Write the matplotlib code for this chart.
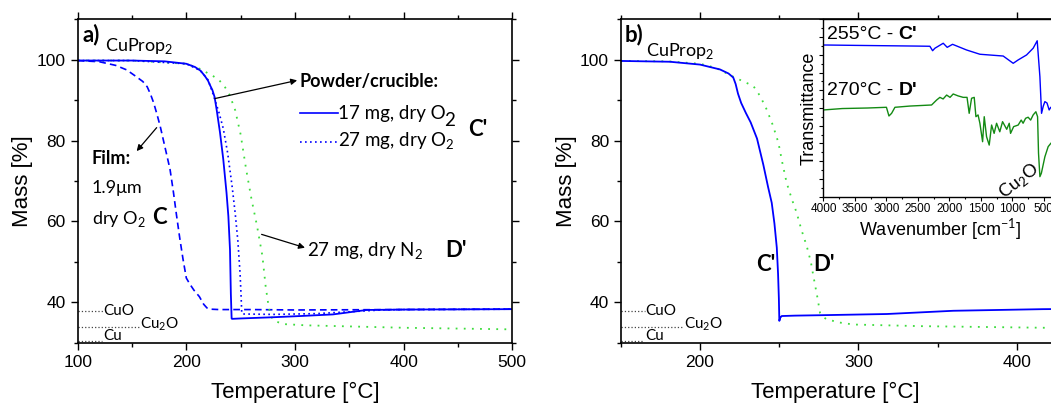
import matplotlib
matplotlib.use("Agg")
import matplotlib.pyplot as plt
from matplotlib.ticker import MultipleLocator

plt.rcParams["font.family"] = ["Liberation Sans", "DejaVu Sans"]
plt.rcParams["mathtext.fontset"] = "custom"
plt.rcParams["mathtext.rm"] = "Lato"

# ---- panel a: TGA curves, temperature [C] vs mass [%]
film_t = [100, 120, 135, 145, 154, 160, 164, 167, 170, 173, 176, 180, 185, 188,
          191, 194, 197, 200, 203, 207, 212, 216, 219, 222, 230, 260, 300, 400, 500]
film_m = [99.8, 99.5, 98.6, 97.5, 95.8, 94.6, 93.3, 91.5, 89.3, 86.5, 83.5, 78.8,
          72.9, 67.5, 61.5, 55.8, 50.6, 46.0, 44.6, 43.0, 41.4, 39.5, 38.6, 38.3,
          38.2, 38.2, 38.1, 38.2, 38.3]

o2_17_t = [100, 150, 180, 200, 208, 213, 217, 220, 222, 224, 226, 228, 231, 234,
           237, 238.7, 240.2, 241, 241.7, 242, 250, 280, 305, 335, 366, 400, 500]
o2_17_m = [99.8, 99.8, 99.6, 99.0, 98.2, 97.3, 96.0, 94.8, 93.6, 92.5, 90.8, 87.5,
           82.0, 75.4, 67.1, 61.3, 53.0, 42.0, 36.0, 35.9, 36.0, 36.3, 36.6, 37.0,
           38.1, 38.2, 38.3]

o2_27_t = [100, 150, 200, 213, 220, 224, 227, 230, 234, 238, 242, 245, 247.5,
           249.5, 250.5, 251, 252, 280, 320, 360, 380, 400, 500]
o2_27_m = [99.8, 99.8, 99.0, 97.3, 95.0, 92.0, 89.5, 87.0, 83.0, 77.0, 69.0, 62.0,
           55.0, 47.0, 41.0, 37.3, 37.1, 37.0, 37.2, 37.8, 38.1, 38.2, 38.3]

n2_27_t = [100, 150, 200, 215, 220, 225, 230, 235, 240, 245, 250, 255, 260, 265,
           270, 273, 276, 279, 283, 290, 310, 340, 400, 450, 500]
n2_27_m = [99.8, 99.8, 99.0, 97.5, 96.6, 95.9, 95.0, 93.5, 91.2, 87.5, 81.5, 73.0,
           65.5, 59.0, 51.5, 44.0, 38.5, 36.0, 35.2, 34.6, 34.3, 34.1, 33.7, 33.5, 33.3]

# ---- panel b: samples C' and D'
c_t = [150, 181, 200, 212.6, 218, 221, 222.5, 224, 226, 229, 232, 236, 240, 243,
       245.3, 247, 248.5, 249.3, 249.8, 250.1, 250.7, 251.6, 260, 275.8, 318, 360,
       416.5, 450]
c_m = [99.7, 99.5, 98.8, 97.6, 96.6, 95.6, 94.0, 91.6, 89.3, 86.8, 84.5, 80.5, 74.0,
       68.5, 64.6, 59.5, 53.5, 47.0, 41.0, 35.4, 36.2, 36.6, 36.7, 36.8, 37.1, 37.9,
       38.3, 38.4]

d_t = [150, 180, 200, 210, 221, 227, 233.7, 238, 242.1, 246, 249.5, 252, 254.7, 258,
       261, 264, 267.4, 270, 271.6, 274, 275.8, 278, 280, 288, 296.8, 339, 416.5, 450]
d_m = [99.7, 99.6, 99.0, 98.0, 95.8, 94.7, 93.5, 91.0, 87.7, 83.8, 79.5, 74.5, 69.6,
       65.5, 62.2, 58.0, 53.9, 50.0, 46.5, 41.5, 37.4, 36.3, 35.8, 35.0, 34.5, 34.1,
       33.7, 33.6]

# theoretical residue levels
ref_names = ["CuO", "Cu$_\\mathregular{2}$O", "Cu"]
ref_mass = [37.8, 34.0, 30.5]

# ---- inset: IR spectra (arbitrary transmittance)
ir_c_wn = [4000, 3940, 3500, 3000, 2500, 2310, 2267, 2230, 2098, 2035, 1950, 1727,
           1516, 1146, 987, 908, 775, 670, 606, 563, 537, 510, 484, 450, 416, 390, 300]
ir_c_tr = [85.5, 85.5, 85.3, 85.1, 84.9, 84.8, 82.3, 83.7, 86.5, 84.2, 85.9, 82.7,
           80.3, 79.3, 75.2, 77.1, 79.9, 83.7, 87.9, 67.6, 47.0, 51.0, 53.6, 52.8,
           48.9, 50.4, 50.0]

ir_d_wn = [4000, 3700, 3300, 3000, 2960, 2918, 2865, 2627, 2283, 2203, 2151, 2100,
           2044, 1990, 1940, 1860, 1781, 1720, 1686, 1648, 1606, 1579, 1545, 1516,
           1473, 1447, 1410, 1368, 1330, 1290, 1251, 1200, 1156, 1090, 1050, 1029,
           980, 908, 860, 830, 790, 750, 710, 670, 627, 600, 585, 563, 540, 484, 432,
           389, 300]
ir_d_tr = [48.9, 49.7, 50.0, 50.4, 45.5, 47.0, 50.4, 51.1, 51.7, 54.5, 56.0, 55.1,
           57.3, 56.0, 57.9, 56.8, 56.0, 56.0, 47.0, 55.5, 56.0, 45.1, 46.1, 41.4,
           31.0, 45.1, 33.8, 29.1, 40.4, 35.7, 41.4, 36.6, 42.3, 38.0, 41.4, 35.7,
           39.5, 40.4, 43.2, 41.4, 44.2, 44.8, 43.2, 46.1, 47.9, 45.1, 24.5, 11.3,
           13.2, 22.5, 28.2, 30.1, 33.0]

BLUE = "#0000ff"
LGREEN = "#3ddc3d"
DGREEN = "#138a13"
ANN = ["Lato", "DejaVu Sans"]


def style_main(ax, xlim):
    ax.set_xlim(*xlim)
    ax.set_ylim(30, 110)
    ax.xaxis.set_major_locator(MultipleLocator(100))
    ax.xaxis.set_minor_locator(MultipleLocator(50))
    ax.yaxis.set_major_locator(MultipleLocator(20))
    ax.yaxis.set_minor_locator(MultipleLocator(10))
    ax.set_yticks([40, 60, 80, 100])
    ax.tick_params(which="both", direction="out", top=True, right=True,
                   labelsize=12.5, width=1.0)
    ax.tick_params(which="major", length=5)
    ax.tick_params(which="minor", length=3)
    for s in ax.spines.values():
        s.set_linewidth(1.2)
    ax.set_ylabel("Mass [%]", fontsize=16)
    ax.set_xlabel("Temperature [°C]", fontsize=16)


def ref_lines(ax, x0, ends, label_x, label_y):
    for name, m, xe, lx, ly in zip(ref_names, ref_mass, ends, label_x, label_y):
        ax.plot([x0, xe], [m, m], ls=":", color="#444444", lw=0.9)
        ax.text(lx, ly, name, family=ANN, fontsize=11, va="center", ha="left")


def after(ax, txt, s, frac_y=0.5, dx=0, **kw):
    return ax.annotate(s, xy=(1, frac_y), xycoords=txt, xytext=(dx, 0),
                       textcoords="offset points", va="center", ha="left", **kw)


fig = plt.figure(figsize=(10.51, 4.03), dpi=100)

# ================= panel a
ax = fig.add_axes([0.0739, 0.1496, 0.4135, 0.8025])
ax.plot(film_t, film_m, color=BLUE, lw=1.2, ls=(0, (4, 2.5)))
ax.plot(n2_27_t, n2_27_m, color=LGREEN, lw=1.3, ls=(0, (1, 3.5)))
ax.plot(o2_27_t, o2_27_m, color=BLUE, lw=1.2, ls=(0, (1, 2)))
ax.plot(o2_17_t, o2_17_m, color=BLUE, lw=1.3)
style_main(ax, (100, 500))
ax.xaxis.set_label_coords(0.5, -0.122)
ax.yaxis.set_label_coords(-0.103, 0.5)
ref_lines(ax, 100, [123.6, 157, 122], [123.6, 157.4, 123.6], [37.9, 34.7, 31.6])

ax.text(0.01, 0.988, "a)", transform=ax.transAxes, family=ANN, fontsize=16,
        fontweight="bold", va="top", ha="left")
ax.text(125.5, 103.3, "CuProp$_\\mathregular{2}$", family=ANN, fontsize=13,
        va="center", ha="left")
ax.text(304.6, 94.7, "Powder/crucible:", family=ANN, fontsize=13, fontweight="bold",
        va="center", ha="left")
ax.annotate("", xy=(302, 94.9), xytext=(226.4, 90.4),
            arrowprops=dict(arrowstyle="-|>", color="black", lw=0.9,
                            mutation_scale=9, shrinkA=0, shrinkB=0))
ax.plot([304.6, 339.9], [86.8, 86.8], color=BLUE, lw=1.2)
t17 = ax.text(340, 86.8, "17 mg, dry O", family=ANN, fontsize=13.5,
              va="center", ha="left")
after(ax, t17, "2", frac_y=0.08, dx=-1.5, family=ANN, fontsize=13.5)
ax.plot([304.6, 339.9], [79.7, 79.7], color=BLUE, lw=1.2, ls=(0, (1, 2)))
ax.text(340, 79.7, "27 mg, dry O$_\\mathregular{2}$", family=ANN, fontsize=13.5,
        va="center", ha="left")
ax.text(468, 82.8, "C'", family=ANN, fontsize=16, fontweight="bold",
        va="center", ha="center")

ax.text(112.9, 75.5, "Film:", family=ANN, fontsize=13, fontweight="bold",
        va="center", ha="left")
ax.text(112.9, 68.3, "1.9μm", family=ANN, fontsize=13, va="center", ha="left")
ax.text(112.9, 60.5, "dry O$_\\mathregular{2}$", family=ANN, fontsize=13,
        va="center", ha="left")
ax.text(168.5, 61.0, "C", family=ANN, fontsize=16, fontweight="bold",
        va="center", ha="left")
ax.annotate("", xy=(154.3, 77.4), xytext=(172.7, 83.2),
            arrowprops=dict(arrowstyle="-|>", color="black", lw=0.9,
                            mutation_scale=9, shrinkA=0, shrinkB=0))

ax.annotate("", xy=(309.2, 53.5), xytext=(269.3, 56.8),
            arrowprops=dict(arrowstyle="-|>", color="black", lw=0.9,
                            mutation_scale=9, shrinkA=0, shrinkB=0))
ax.text(310.7, 52.6, "27 mg, dry N$_\\mathregular{2}$", family=ANN, fontsize=13.5,
        va="center", ha="left")
ax.text(438, 52.8, "D'", family=ANN, fontsize=16, fontweight="bold",
        va="center", ha="left")

# ================= panel b
bx = fig.add_axes([0.5907, 0.1496, 0.4520, 0.8025])
bx.plot(d_t, d_m, color=LGREEN, lw=1.3, ls=(0, (1, 3.5)))
bx.plot(c_t, c_m, color=BLUE, lw=1.3)
style_main(bx, (150, 450))
bx.xaxis.set_label_coords(0.451, -0.122)
bx.yaxis.set_label_coords(-0.093, 0.5)
ref_lines(bx, 150, [165.3, 189.5, 164.8], [165.3, 189.8, 165.3], [37.9, 34.7, 31.6])

bx.text(0.009, 0.988, "b)", transform=bx.transAxes, family=ANN, fontsize=16,
        fontweight="bold", va="top", ha="left")
bx.text(165.8, 102.2, "CuProp$_\\mathregular{2}$", family=ANN, fontsize=13,
        va="center", ha="left")
bx.text(241.6, 49.3, "C'", family=ANN, fontsize=16, fontweight="bold",
        va="center", ha="center")
bx.text(278.2, 49.3, "D'", family=ANN, fontsize=16, fontweight="bold",
        va="center", ha="center")

# ================= inset
ix = fig.add_axes([0.7835, 0.5119, 0.2217, 0.4402])
ix.plot(ir_c_wn, ir_c_tr, color=BLUE, lw=1.0)
ix.plot(ir_d_wn, ir_d_tr, color=DGREEN, lw=1.0)
ix.set_xlim(4000, 300)
ix.set_ylim(0, 100)
ix.xaxis.set_major_locator(MultipleLocator(500))
ix.xaxis.set_minor_locator(MultipleLocator(250))
ix.yaxis.set_major_locator(MultipleLocator(10))
ix.yaxis.set_minor_locator(MultipleLocator(5))
ix.tick_params(which="both", direction="out", labelsize=8.5, pad=1.5, width=0.8)
ix.tick_params(which="major", length=3)
ix.tick_params(which="minor", length=1.5)
ix.tick_params(axis="y", labelleft=False)
for s in ix.spines.values():
    s.set_linewidth(1.0)
ix.set_ylabel("Transmittance", fontsize=13, labelpad=1)
ix.set_xlabel("Wavenumber [cm$^{-1}$]", fontsize=13, labelpad=1)

tc = ix.text(3945, 91.2, "255°C - ", fontsize=14, va="center", ha="left")
after(ix, tc, "C'", fontsize=14, fontweight="bold")
td = ix.text(3945, 60.1, "270°C - ", fontsize=14, va="center", ha="left")
after(ix, td, "D'", fontsize=14, fontweight="bold")
ix.text(900, 9.0, "Cu$_\\mathregular{2}$O", family=ANN, fontsize=13, rotation=38,
        va="center", ha="center")

fig.savefig("out.png", dpi=100)
